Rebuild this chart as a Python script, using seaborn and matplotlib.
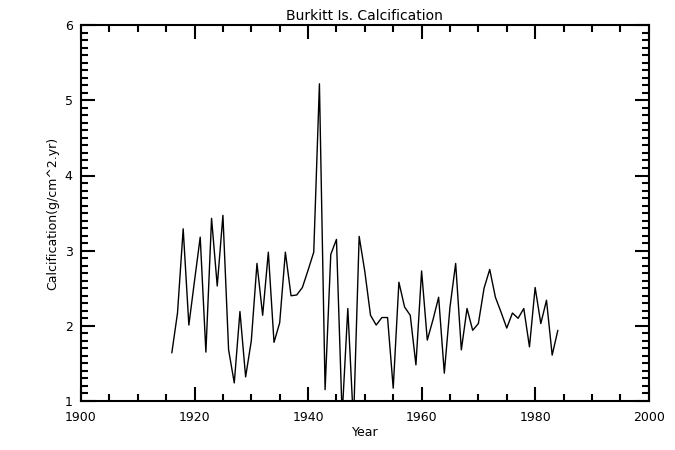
import numpy as np
import pandas as pd
import matplotlib
matplotlib.use("Agg")
import matplotlib.pyplot as plt
from matplotlib.ticker import MultipleLocator
import seaborn as sns

# data, one value per year
years = list(range(1916, 1985))
calcification = [
    1.64, 2.17, 3.29, 2.01, 2.60, 3.18, 1.65, 3.43, 2.53, 3.47,  # 1916-1925
    1.68, 1.24, 2.19, 1.32, 1.80, 2.83, 2.14, 2.98, 1.78, 2.04,  # 1926-1935
    2.98, 2.40, 2.41, 2.51, 2.74, 2.98, 5.22, 1.15, 2.95, 3.15,  # 1936-1945
    0.80, 2.23, 0.70, 3.19, 2.72, 2.14, 2.01, 2.11, 2.11, 1.17,  # 1946-1955
    2.58, 2.25, 2.14, 1.48, 2.73, 1.81, 2.08, 2.38, 1.37, 2.25,  # 1956-1965
    2.83, 1.68, 2.23, 1.94, 2.03, 2.50, 2.75, 2.38, 2.18, 1.97,  # 1966-1975
    2.17, 2.10, 2.23, 1.72, 2.51, 2.03, 2.34, 1.61, 1.94,        # 1976-1984
]

df = pd.DataFrame({"Year": years, "Calcification": calcification})

sns.set_style("ticks")
plt.rcParams["font.family"] = ["DejaVu Sans"]
plt.rcParams["text.color"] = "black"
plt.rcParams["axes.labelcolor"] = "black"

fig = plt.figure(figsize=(6.75, 4.5), dpi=100)
ax = fig.add_axes([0.12, 0.109, 0.841, 0.835])

sns.lineplot(data=df, x="Year", y="Calcification", color="black", linewidth=1.0, ax=ax)

ax.set_xlim(1900, 2000)
ax.set_ylim(1, 6)
ax.xaxis.set_major_locator(MultipleLocator(20))
ax.xaxis.set_minor_locator(MultipleLocator(5))
ax.yaxis.set_major_locator(MultipleLocator(1))
ax.yaxis.set_minor_locator(MultipleLocator(0.1))

ax.tick_params(which="both", direction="in", top=True, right=True,
               color="black", labelcolor="black", labelsize=9, width=1.5)
ax.tick_params(which="major", length=10)
ax.tick_params(which="minor", length=5)
ax.tick_params(axis="x", which="major", pad=7)
ax.tick_params(axis="y", which="major", pad=6)
for s in ax.spines.values():
    s.set_linewidth(1.5)
    s.set_color("black")

ax.set_title("Burkitt Is. Calcification", fontsize=10, pad=4, color="black")
ax.set_xlabel("Year", fontsize=9, labelpad=2)
ax.set_ylabel("Calcification(g/cm^2.yr)", fontsize=9)

fig.savefig("out.png", dpi=100, facecolor="white")
